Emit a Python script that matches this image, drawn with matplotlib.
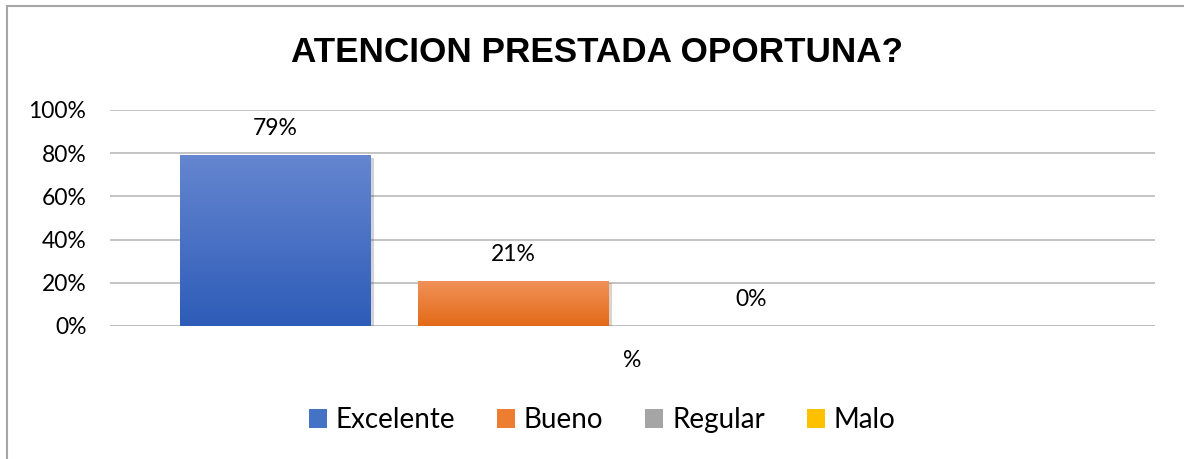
import numpy as np
import matplotlib
matplotlib.use('Agg')
import matplotlib.pyplot as plt
from matplotlib import font_manager
from matplotlib.patches import Rectangle
import matplotlib.patheffects as pe

title = 'ATENCION PRESTADA OPORTUNA?'
category = '%'
series = ['Excelente', 'Bueno', 'Regular', 'Malo']
values = [0.79, 0.21, 0.0, np.nan]
labels = ['79%', '21%', '0%', '']
colors = ['#4472c4', '#ed7d31', '#a5a5a5', '#ffc000']
tops = ['#6586d0', '#f1925a', '#b8b8b8', '#ffcf40']
bottoms = ['#2e5cb8', '#e36a18', '#8f8f8f', '#e6ad00']
yticks = [0, 0.2, 0.4, 0.6, 0.8, 1.0]

plt.rcParams['font.family'] = ['Lato', 'DejaVu Sans']

fig = plt.figure(figsize=(11.84, 4.59), dpi=100)
ax = fig.add_axes([110/1184, 1-326/459, 1045/1184, 216/459])

# chart border (open at right/bottom like the screenshot crop)
fig.patches.append(Rectangle((7/1184, -0.1), 1.2, 1-6/459+0.1, transform=fig.transFigure,
                             fill=False, edgecolor='#a6a6a6', linewidth=1.5))

width = 191/1045
step = 238/1045
offsets = (np.arange(len(series)) - 1.5) * step

grad = np.linspace(0, 1, 100).reshape(-1, 1)
for i, s in enumerate(series):
    v = values[i]
    bars = ax.bar(offsets[i], 0 if np.isnan(v) else v, width, color=colors[i], label=s, zorder=3,
                  path_effects=[pe.SimplePatchShadow(offset=(2, -2), alpha=0.2), pe.Normal()])
    p = bars[0]
    if not np.isnan(v) and v > 0:
        cmap = matplotlib.colors.LinearSegmentedColormap.from_list('g', [bottoms[i], tops[i]])
        im = ax.imshow(grad, cmap=cmap, aspect='auto', origin='lower', zorder=4,
                       extent=[p.get_x(), p.get_x()+p.get_width(), 0, v])
        im.set_clip_path(p)
    if labels[i]:
        ax.annotate(labels[i], (offsets[i], 0 if np.isnan(v) else v), xytext=(0, 19),
                    textcoords='offset points', ha='center', va='center', fontsize=16.5)

ax.set_xlim(-0.5, 0.5)
ax.set_ylim(0, 1)
ax.set_yticks(yticks)
ax.set_yticklabels([f'{int(round(t*100))}%' for t in yticks], fontsize=16.5)
ax.set_xticks([0])
ax.set_xticklabels([category], fontsize=16.5)
ax.tick_params(axis='y', length=0, pad=17)
ax.tick_params(axis='x', length=0, pad=17)
ax.grid(axis='y', color='#bfbfbf', linewidth=1.3, zorder=0)
for sp in ax.spines.values():
    sp.set_visible(False)
ax.axhline(0, color='#bfbfbf', linewidth=1.3, zorder=2)

names = {f.name for f in font_manager.fontManager.ttflist}
if 'Liberation Sans Narrow' in names:
    fig.text(597/1184, 1-53/459, title, ha='center', va='center', fontsize=32,
             fontweight='bold', family=['Liberation Sans Narrow'])
else:
    fig.text(597/1184, 1-53/459, title, ha='center', va='center', fontsize=25.3,
             fontweight='bold', family=['Liberation Sans'])

handles = [Rectangle((0, 0), 1, 1, facecolor=c) for c in colors]
fig.legend(handles, series, loc='center', bbox_to_anchor=(602/1184, 1-420/459), ncol=4,
           frameon=False, fontsize=20, handlelength=0.65, handleheight=0.65,
           handletextpad=0.32, columnspacing=1.5)

fig.savefig('out.png', dpi=100)
